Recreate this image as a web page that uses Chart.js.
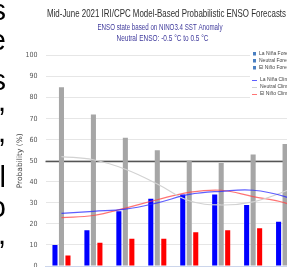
<!DOCTYPE html>
<html>
<head>
<meta charset="utf-8">
<script src="https://cdn.jsdelivr.net/npm/chart.js@4.4.1/dist/chart.umd.min.js"></script>
<style>
  html, body { margin: 0; padding: 0; background: #fff; overflow: hidden; width: 287px; height: 267px; }
  #chart { position: absolute; left: 0; top: 0; }
  .side { position: absolute; left: -42px; width: 48px; text-align: right; font: 29px/30px "Liberation Sans", Arial, sans-serif; color: #000; z-index: 2; }
</style>
</head>
<body>
<div class="side" style="top:-5px">s</div>
<div class="side" style="top:25px">e</div>
<div class="side" style="top:65px">s</div>
<div class="side" style="top:86px">,</div>
<div class="side" style="top:117px">,</div>
<div class="side" style="top:162px">l</div>
<div class="side" style="top:192px">o</div>
<div class="side" style="top:219px">,</div>
<canvas id="chart" width="333" height="286"></canvas>
<script>
const seasons = ["JJA", "JAS", "ASO", "SON", "OND", "NDJ", "DJF", "JFM", "FMA"]

// model forecast probabilities (%)
const laNinaFcst = [10, 17, 26, 32, 34, 34, 29, 21, 21]
const neutralFcst = [85, 72, 61, 55, 50, 49, 53, 58, 57]
const elNinoFcst = [5, 11, 13, 13, 16, 17, 18, 21, 22]

// climatology (%)
const laNinaClim = [25, 26, 27, 30, 34, 35.5, 36, 33, 27]
const neutralClim = [52, 50.5, 46, 39, 31, 29, 30.5, 35.5, 43]
const elNinoClim = [23, 24, 27.5, 31.5, 35, 36, 33, 30, 24]

const yTicks = [0, 10, 20, 30, 40, 50, 60, 70, 80, 90, 100]
const neutralLine = 50

const titleText = "Mid-June 2021 IRI/CPC Model-Based Probabilistic ENSO Forecasts"
const subtitleText = ["ENSO state based on NINO3.4 SST Anomaly", "Neutral ENSO: -0.5 °C to 0.5 °C"]

const sans = "'Liberation Sans', Arial, sans-serif"
Chart.defaults.font.family = sans

// squeezed text, like the condensed face of the original
function narrowText(ctx, text, cx, cy, width, font, color) {
    ctx.save()
    ctx.font = font
    ctx.fillStyle = color
    ctx.textAlign = "center"
    ctx.textBaseline = "middle"
    const k = width / ctx.measureText(text).width
    ctx.translate(cx, cy)
    ctx.scale(k, 1)
    ctx.fillText(text, 0, 0)
    ctx.restore()
}

const titles = {
    id: "titles",
    afterDraw(chart) {
        const ctx = chart.ctx
        narrowText(ctx, titleText, 166.5, 14, 239, "10.5px " + sans, "#2e2e2e")
        narrowText(ctx, subtitleText[0], 160, 28, 125, "8.5px " + sans, "#3f3a9c")
        narrowText(ctx, subtitleText[1], 162.5, 38.5, 92, "8.5px " + sans, "#3f3a9c")
    }
}

const refLine = {
    id: "refLine",
    beforeDatasetsDraw(chart) {
        const { ctx, chartArea, scales } = chart
        const y = Math.round(scales.y.getPixelForValue(neutralLine)) + 0.5
        ctx.save()
        ctx.strokeStyle = "#555"
        ctx.lineWidth = 1.5
        ctx.beginPath()
        ctx.moveTo(chartArea.left, y)
        ctx.lineTo(chartArea.right, y)
        ctx.stroke()
        ctx.restore()
    }
}

const sideLegend = {
    id: "sideLegend",
    afterDraw(chart) {
        const { ctx, chartArea } = chart
        const x = chartArea.left + 207.5
        const sets = chart.data.datasets
        ctx.save()
        ctx.fillStyle = "#fff"
        ctx.fillRect(x - 3, 49, 200, 51)
        ctx.font = "5px " + sans
        ctx.textBaseline = "middle"
        sets.forEach((ds, i) => {
            if (ds.type === "line") {
                const y = 80 + (i - 3) * 7
                ctx.strokeStyle = ds.borderColor
                ctx.lineWidth = 1
                ctx.beginPath()
                ctx.moveTo(x - 1, y + 0.5)
                ctx.lineTo(x + 4, y + 0.5)
                ctx.stroke()
                ctx.fillStyle = "#444"
                ctx.fillText(ds.label, x + 7, y)
            } else {
                const y = 53.5 + i * 7
                ctx.fillStyle = "#4a7fc1"
                ctx.fillRect(x, y - 1.5, 3, 3.5)
                ctx.fillStyle = "#444"
                ctx.fillText(ds.label, x + 6, y)
            }
        })
        ctx.restore()
    }
}

new Chart(document.getElementById("chart"), {
    type: "bar",
    data: {
        labels: seasons,
        datasets: [
            { label: "La Niña Forecast", data: laNinaFcst, backgroundColor: "#0000ff", order: 2 },
            { label: "Neutral Forecast", data: neutralFcst, backgroundColor: "#a6a6a6", order: 2 },
            { label: "El Niño Forecast", data: elNinoFcst, backgroundColor: "#ff0000", order: 2 },
            { type: "line", label: "La Niña Climatology", data: laNinaClim, borderColor: "rgba(40,40,255,0.75)", borderWidth: 1.2, pointRadius: 0, tension: 0.4, order: 1 },
            { type: "line", label: "Neutral Climatology", data: neutralClim, borderColor: "#d2d2d2", borderWidth: 1.2, pointRadius: 0, tension: 0.4, order: 1 },
            { type: "line", label: "El Niño Climatology", data: elNinoClim, borderColor: "rgba(255,70,70,0.75)", borderWidth: 1.2, pointRadius: 0, tension: 0.4, order: 1 }
        ]
    },
    options: {
        responsive: false,
        animation: false,
        devicePixelRatio: 1,
        datasets: { bar: { categoryPercentage: 0.61, barPercentage: 0.78 } },
        layout: { padding: { top: 55.6 } },
        plugins: {
            legend: { display: false },
            tooltip: { enabled: false }
        },
        scales: {
            x: {
                grid: { display: false },
                border: { color: "#ccd6eb" },
                ticks: { color: "#555", font: { size: 7 } },
                afterFit: (axis) => { axis.height = 20 }
            },
            y: {
                min: 0,
                max: 100,
                afterBuildTicks: (axis) => { axis.ticks = yTicks.map(v => ({ value: v })) },
                grid: { color: "#e6e6e6", drawTicks: false },
                border: { display: false },
                ticks: { color: "#555", font: { family: "'DejaVu Sans Condensed', " + sans, size: 7 }, padding: 8 },
                title: { display: true, text: "Probability (%)", color: "#444", font: { family: "'DejaVu Sans', " + sans, size: 7.5 }, padding: { top: 16, bottom: 0 } },
                afterFit: (axis) => { axis.width = 45.5 }
            }
        }
    },
    plugins: [refLine, sideLegend, titles]
})
</script>
</body>
</html>
